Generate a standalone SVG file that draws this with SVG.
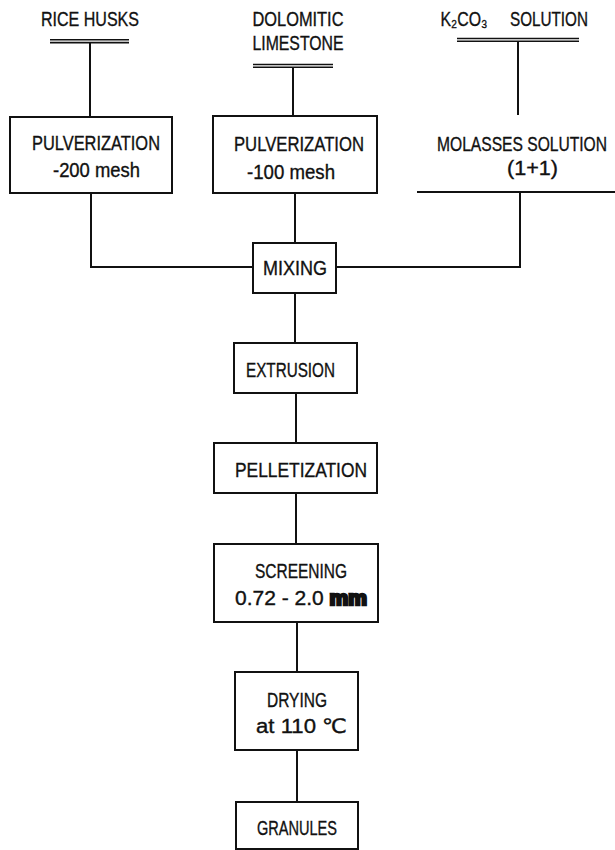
<svg xmlns="http://www.w3.org/2000/svg" width="615" height="850" viewBox="0 0 615 850">
<style>
.bx{fill:none;stroke:#111;stroke-width:2}
.ln{fill:none;stroke:#111;stroke-width:2}
.bar{fill:none;stroke:#111;stroke-width:1.6}
text{font-family:"Liberation Sans","DejaVu Sans",sans-serif;font-size:20px;fill:#111;stroke:#111;stroke-width:0.35;text-anchor:middle}
</style>
<rect width="615" height="850" fill="#fff"/>
<g id="rice-husks">
<text x="90" y="26" textLength="98" lengthAdjust="spacingAndGlyphs">RICE HUSKS</text>
<line class="bar" x1="50" y1="39.8" x2="129" y2="39.8"/><line class="bar" x1="50" y1="42.6" x2="129" y2="42.6"/>
</g>
<g id="dolomitic-limestone">
<text x="298" y="26" textLength="91" lengthAdjust="spacingAndGlyphs">DOLOMITIC</text>
<text x="298" y="50" textLength="91" lengthAdjust="spacingAndGlyphs">LIMESTONE</text>
<line class="bar" x1="253" y1="64.5" x2="333" y2="64.5"/><line class="bar" x1="253" y1="67.3" x2="333" y2="67.3"/>
</g>
<g id="k2co3">
<text x="464" y="26" textLength="47" lengthAdjust="spacingAndGlyphs">K₂CO₃</text>
<text x="549" y="26" textLength="78" lengthAdjust="spacingAndGlyphs">SOLUTION</text>
<line class="bar" x1="457" y1="38.5" x2="579" y2="38.5"/><line class="bar" x1="457" y1="41.3" x2="579" y2="41.3"/>
</g>
<g id="pulv1">
<rect class="bx" x="10" y="117" width="162" height="76"/>
<text x="96" y="150" textLength="128" lengthAdjust="spacingAndGlyphs">PULVERIZATION</text>
<text x="96.5" y="177" textLength="87" lengthAdjust="spacingAndGlyphs">-200 mesh</text>
</g>
<g id="pulv2">
<rect class="bx" x="213" y="116" width="164" height="77"/>
<text x="299" y="151" textLength="130" lengthAdjust="spacingAndGlyphs">PULVERIZATION</text>
<text x="291" y="179" textLength="88" lengthAdjust="spacingAndGlyphs">-100 mesh</text>
</g>
<g id="molasses">
<text transform="translate(522,151) scale(0.78,1)" x="0" y="0" textLength="218" lengthAdjust="spacingAndGlyphs">MOLASSES SOLUTION</text>
<text x="532.5" y="175" textLength="51" lengthAdjust="spacingAndGlyphs">(1+1)</text>
<line class="ln" x1="417" y1="192" x2="615" y2="192"/>
</g>
<g id="mixing">
<rect class="bx" x="253" y="243" width="83" height="50"/>
<text x="295" y="275" textLength="64" lengthAdjust="spacingAndGlyphs">MIXING</text>
</g>
<g id="extrusion">
<rect class="bx" x="234" y="343" width="123" height="50"/>
<text x="290.5" y="377" textLength="89" lengthAdjust="spacingAndGlyphs">EXTRUSION</text>
</g>
<g id="pelletization">
<rect class="bx" x="214" y="443" width="163" height="50"/>
<text x="301" y="477" textLength="132" lengthAdjust="spacingAndGlyphs">PELLETIZATION</text>
</g>
<g id="screening">
<rect class="bx" x="214" y="544" width="164" height="78"/>
<text x="301" y="578" textLength="92" lengthAdjust="spacingAndGlyphs">SCREENING</text>
<text x="301" y="605" textLength="132" lengthAdjust="spacingAndGlyphs">0.72 - 2.0 <tspan font-weight="bold" stroke-width="2.5">mm</tspan></text>
</g>
<g id="drying">
<rect class="bx" x="235" y="672" width="123" height="78"/>
<text x="297" y="707" textLength="60" lengthAdjust="spacingAndGlyphs">DRYING</text>
<text x="301.5" y="733" textLength="91" lengthAdjust="spacingAndGlyphs">at 110 ℃</text>
</g>
<g id="granules">
<rect class="bx" x="236" y="802" width="122" height="47"/>
<text x="297" y="835" textLength="80" lengthAdjust="spacingAndGlyphs">GRANULES</text>
</g>
<g id="connectors">
<line class="ln" x1="90" y1="43" x2="90" y2="117"/>
<line class="ln" x1="293" y1="68" x2="293" y2="116"/>
<line class="ln" x1="518" y1="42" x2="518" y2="115"/>
<polyline class="ln" points="91,193 91,267 253,267"/>
<line class="ln" x1="295" y1="193" x2="295" y2="243"/>
<polyline class="ln" points="520,192 520,267 336,267"/>
<line class="ln" x1="295" y1="293" x2="295" y2="343"/>
<line class="ln" x1="296" y1="393" x2="296" y2="443"/>
<line class="ln" x1="296" y1="493" x2="296" y2="544"/>
<line class="ln" x1="297" y1="622" x2="297" y2="672"/>
<line class="ln" x1="297" y1="750" x2="297" y2="802"/>
</g>
</svg>
